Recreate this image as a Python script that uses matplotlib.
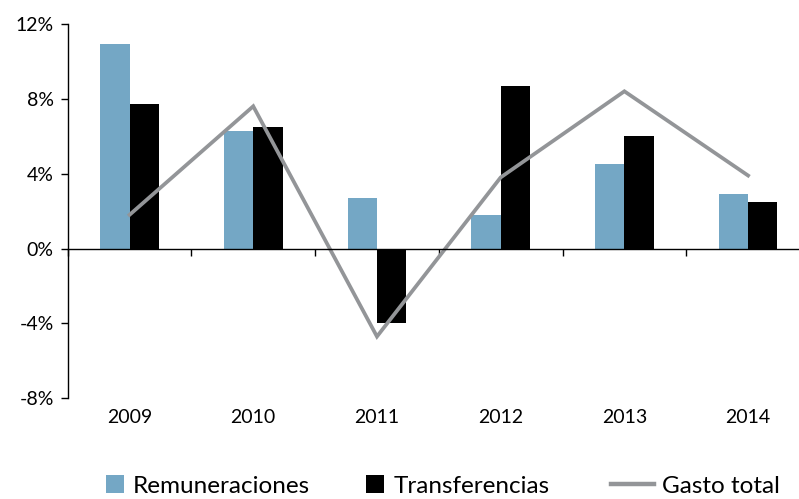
import matplotlib
matplotlib.use("Agg")
import matplotlib.pyplot as plt
from matplotlib.lines import Line2D
from matplotlib.patches import Patch
import numpy as np

plt.rcParams['font.family'] = ['Lato', 'DejaVu Sans']

years = ['2009', '2010', '2011', '2012', '2013', '2014']
remuneraciones = [10.9, 6.3, 2.7, 1.8, 4.5, 2.9]
transferencias = [7.7, 6.5, -4.0, 8.7, 6.0, 2.5]
gasto_total = [1.8, 7.6, -4.7, 3.8, 8.4, 3.9]

blue = '#74a7c5'
gray = '#939598'

fig = plt.figure(figsize=(7.99, 4.99), dpi=100)
ax = fig.add_axes([0.0847, 0.2018, 0.929, 0.7503])

x = np.arange(len(years))
w = 0.237
b1 = ax.bar(x - w / 2, remuneraciones, w, color=blue, zorder=2)
b2 = ax.bar(x + w / 2, transferencias, w, color='black', zorder=2)
ln, = ax.plot(x, gasto_total, color=gray, lw=2.7, zorder=3, solid_joinstyle='miter')

ax.set_xlim(-0.5, 5.5)
ax.set_ylim(-8, 12)
ax.set_yticks([-8, -4, 0, 4, 8, 12])
ax.set_yticklabels([f'{v}%' for v in [-8, -4, 0, 4, 8, 12]], fontsize=14)
ax.tick_params(axis='y', direction='out', length=5, width=1, pad=5)

for s in ['top', 'right']:
    ax.spines[s].set_visible(False)
ax.spines['bottom'].set_position(('data', 0))
ax.spines['left'].set_linewidth(1)
ax.spines['bottom'].set_linewidth(1)
ax.spines['bottom'].set_zorder(4)

ax.set_xticks(np.arange(-0.5, 6.0, 1.0), minor=True)
ax.set_xticks([])
ax.tick_params(axis='x', which='minor', direction='out', length=5, width=1)

sec = ax.secondary_xaxis(0)
sec.set_xticks(x)
sec.set_xticklabels(years, fontsize=14)
sec.tick_params(length=0, pad=8)
sec.spines['bottom'].set_visible(False)

# legend: two parts so the squares and the line can have different lengths
ly = 0.026
leg1 = fig.legend([Patch(facecolor=blue), Patch(facecolor='black')],
                  ['Remuneraciones', 'Transferencias'],
                  loc='center left', bbox_to_anchor=(106 / 799, ly), ncol=2,
                  frameon=False, fontsize=17.5, borderpad=0, borderaxespad=0,
                  handlelength=0.72, handleheight=0.72, handletextpad=0.4,
                  columnspacing=2.3)
fig.legend([Line2D([0], [0], color=gray, lw=3.2)], ['Gasto total'],
           loc='center left', bbox_to_anchor=(611 / 799, ly),
           frameon=False, fontsize=17.5, borderpad=0, borderaxespad=0,
           handlelength=1.75, handletextpad=0.35)

fig.savefig('out.png', dpi=100)
